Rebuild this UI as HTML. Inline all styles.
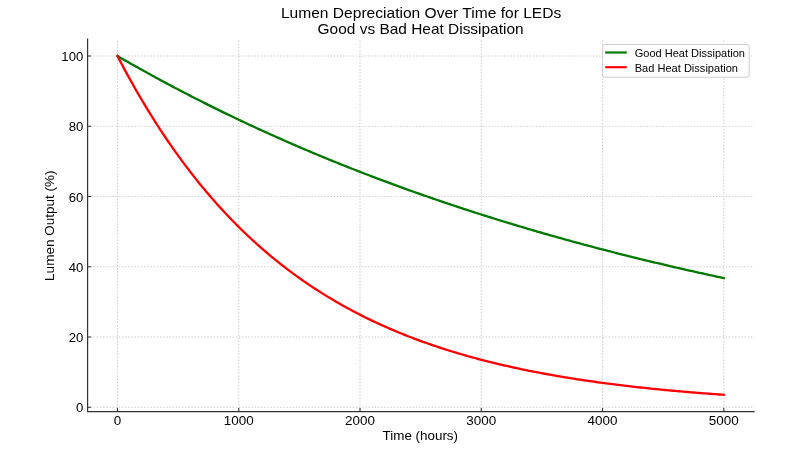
<!DOCTYPE html><html><head><meta charset="utf-8"><style>html,body{margin:0;padding:0;background:#fff;overflow:hidden}svg{display:block}text{font-family:"Liberation Sans",sans-serif;fill:#000}svg{will-change:transform}</style></head><body>
<svg width="800" height="450" viewBox="0 0 800 450">
<rect width="800" height="450" fill="#fff"/>
<path d="M117.50 411.71V39.11M238.76 411.71V39.11M360.02 411.71V39.11M481.28 411.71V39.11M602.54 411.71V39.11M723.80 411.71V39.11M87.19 407.30H754.11M87.19 337.05H754.11M87.19 266.80H754.11M87.19 196.55H754.11M87.19 126.30H754.11M87.19 56.05H754.11" stroke="#cfcfcf" stroke-width="1.1" stroke-dasharray="1.5 1.66" fill="none"/>
<path d="M117.50,56.05 119.53,57.22 121.56,58.39 123.58,59.56 125.61,60.72 127.64,61.87 129.67,63.03 131.69,64.18 133.72,65.32 135.75,66.47 137.78,67.60 139.81,68.74 141.83,69.87 143.86,70.99 145.89,72.12 147.92,73.24 149.94,74.35 151.97,75.46 154.00,76.57 156.03,77.68 158.06,78.78 160.08,79.87 162.11,80.97 164.14,82.06 166.17,83.14 168.19,84.22 170.22,85.30 172.25,86.38 174.28,87.45 176.31,88.52 178.33,89.58 180.36,90.64 182.39,91.70 184.42,92.75 186.44,93.80 188.47,94.85 190.50,95.89 192.53,96.93 194.55,97.97 196.58,99.00 198.61,100.03 200.64,101.06 202.67,102.08 204.69,103.10 206.72,104.12 208.75,105.13 210.78,106.14 212.80,107.14 214.83,108.14 216.86,109.14 218.89,110.14 220.92,111.13 222.94,112.12 224.97,113.11 227.00,114.09 229.03,115.07 231.05,116.04 233.08,117.02 235.11,117.98 237.14,118.95 239.17,119.91 241.19,120.87 243.22,121.83 245.25,122.78 247.28,123.73 249.30,124.68 251.33,125.62 253.36,126.56 255.39,127.50 257.42,128.43 259.44,129.37 261.47,130.29 263.50,131.22 265.53,132.14 267.55,133.06 269.58,133.97 271.61,134.89 273.64,135.80 275.67,136.70 277.69,137.61 279.72,138.51 281.75,139.40 283.78,140.30 285.80,141.19 287.83,142.08 289.86,142.96 291.89,143.85 293.92,144.73 295.94,145.60 297.97,146.48 300.00,147.35 302.03,148.22 304.05,149.08 306.08,149.94 308.11,150.80 310.14,151.66 312.16,152.51 314.19,153.36 316.22,154.21 318.25,155.06 320.28,155.90 322.30,156.74 324.33,157.57 326.36,158.41 328.39,159.24 330.41,160.07 332.44,160.89 334.47,161.72 336.50,162.54 338.53,163.35 340.55,164.17 342.58,164.98 344.61,165.79 346.64,166.60 348.66,167.40 350.69,168.20 352.72,169.00 354.75,169.79 356.78,170.59 358.80,171.38 360.83,172.16 362.86,172.95 364.89,173.73 366.91,174.51 368.94,175.29 370.97,176.06 373.00,176.84 375.03,177.61 377.05,178.37 379.08,179.14 381.11,179.90 383.14,180.66 385.16,181.41 387.19,182.17 389.22,182.92 391.25,183.67 393.28,184.42 395.30,185.16 397.33,185.90 399.36,186.64 401.39,187.38 403.41,188.11 405.44,188.84 407.47,189.57 409.50,190.30 411.53,191.03 413.55,191.75 415.58,192.47 417.61,193.18 419.64,193.90 421.66,194.61 423.69,195.32 425.72,196.03 427.75,196.74 429.77,197.44 431.80,198.14 433.83,198.84 435.86,199.53 437.89,200.23 439.91,200.92 441.94,201.61 443.97,202.29 446.00,202.98 448.02,203.66 450.05,204.34 452.08,205.02 454.11,205.69 456.14,206.37 458.16,207.04 460.19,207.71 462.22,208.37 464.25,209.04 466.27,209.70 468.30,210.36 470.33,211.02 472.36,211.67 474.39,212.33 476.41,212.98 478.44,213.63 480.47,214.27 482.50,214.92 484.52,215.56 486.55,216.20 488.58,216.84 490.61,217.47 492.64,218.11 494.66,218.74 496.69,219.37 498.72,220.00 500.75,220.62 502.77,221.24 504.80,221.87 506.83,222.48 508.86,223.10 510.89,223.72 512.91,224.33 514.94,224.94 516.97,225.55 519.00,226.16 521.02,226.76 523.05,227.36 525.08,227.96 527.11,228.56 529.14,229.16 531.16,229.76 533.19,230.35 535.22,230.94 537.25,231.53 539.27,232.11 541.30,232.70 543.33,233.28 545.36,233.86 547.38,234.44 549.41,235.02 551.44,235.59 553.47,236.17 555.50,236.74 557.52,237.31 559.55,237.88 561.58,238.44 563.61,239.01 565.63,239.57 567.66,240.13 569.69,240.69 571.72,241.24 573.75,241.80 575.77,242.35 577.80,242.90 579.83,243.45 581.86,244.00 583.88,244.54 585.91,245.08 587.94,245.63 589.97,246.17 592.00,246.70 594.02,247.24 596.05,247.78 598.08,248.31 600.11,248.84 602.13,249.37 604.16,249.89 606.19,250.42 608.22,250.94 610.25,251.47 612.27,251.99 614.30,252.51 616.33,253.02 618.36,253.54 620.38,254.05 622.41,254.56 624.44,255.07 626.47,255.58 628.50,256.09 630.52,256.59 632.55,257.10 634.58,257.60 636.61,258.10 638.63,258.59 640.66,259.09 642.69,259.59 644.72,260.08 646.75,260.57 648.77,261.06 650.80,261.55 652.83,262.04 654.86,262.52 656.88,263.00 658.91,263.49 660.94,263.97 662.97,264.44 664.99,264.92 667.02,265.40 669.05,265.87 671.08,266.34 673.11,266.81 675.13,267.28 677.16,267.75 679.19,268.22 681.22,268.68 683.24,269.14 685.27,269.60 687.30,270.06 689.33,270.52 691.36,270.98 693.38,271.43 695.41,271.89 697.44,272.34 699.47,272.79 701.49,273.24 703.52,273.69 705.55,274.13 707.58,274.58 709.61,275.02 711.63,275.46 713.66,275.90 715.69,276.34 717.72,276.78 719.74,277.22 721.77,277.65 723.80,278.08" stroke="#007800" stroke-width="2.3" fill="none" stroke-linejoin="round" stroke-linecap="square"/>
<path d="M117.50,56.05 119.53,59.94 121.56,63.79 123.58,67.60 125.61,71.37 127.64,75.09 129.67,78.78 131.69,82.42 133.72,86.02 135.75,89.58 137.78,93.10 139.81,96.59 141.83,100.03 143.86,103.44 145.89,106.81 147.92,110.14 149.94,113.43 151.97,116.69 154.00,119.91 156.03,123.10 158.06,126.25 160.08,129.37 162.11,132.45 164.14,135.49 166.17,138.51 168.19,141.49 170.22,144.43 172.25,147.35 174.28,150.23 176.31,153.08 178.33,155.90 180.36,158.69 182.39,161.44 184.42,164.17 186.44,166.86 188.47,169.53 190.50,172.16 192.53,174.77 194.55,177.35 196.58,179.90 198.61,182.42 200.64,184.91 202.67,187.38 204.69,189.82 206.72,192.23 208.75,194.61 210.78,196.97 212.80,199.30 214.83,201.61 216.86,203.89 218.89,206.14 220.92,208.37 222.94,210.58 224.97,212.76 227.00,214.92 229.03,217.05 231.05,219.16 233.08,221.24 235.11,223.31 237.14,225.35 239.17,227.36 241.19,229.36 243.22,231.33 245.25,233.28 247.28,235.21 249.30,237.12 251.33,239.01 253.36,240.87 255.39,242.72 257.42,244.54 259.44,246.35 261.47,248.13 263.50,249.89 265.53,251.64 267.55,253.37 269.58,255.07 271.61,256.76 273.64,258.43 275.67,260.08 277.69,261.71 279.72,263.33 281.75,264.92 283.78,266.50 285.80,268.06 287.83,269.60 289.86,271.13 291.89,272.64 293.92,274.13 295.94,275.61 297.97,277.07 300.00,278.51 302.03,279.94 304.05,281.35 306.08,282.75 308.11,284.13 310.14,285.50 312.16,286.85 314.19,288.18 316.22,289.50 318.25,290.81 320.28,292.10 322.30,293.38 324.33,294.64 326.36,295.89 328.39,297.12 330.41,298.35 332.44,299.55 334.47,300.75 336.50,301.93 338.53,303.10 340.55,304.25 342.58,305.40 344.61,306.52 346.64,307.64 348.66,308.75 350.69,309.84 352.72,310.92 354.75,311.99 356.78,313.05 358.80,314.09 360.83,315.12 362.86,316.15 364.89,317.16 366.91,318.16 368.94,319.14 370.97,320.12 373.00,321.09 375.03,322.04 377.05,322.99 379.08,323.92 381.11,324.85 383.14,325.76 385.16,326.67 387.19,327.56 389.22,328.44 391.25,329.32 393.28,330.18 395.30,331.04 397.33,331.88 399.36,332.72 401.39,333.55 403.41,334.36 405.44,335.17 407.47,335.97 409.50,336.76 411.53,337.54 413.55,338.32 415.58,339.08 417.61,339.84 419.64,340.59 421.66,341.33 423.69,342.06 425.72,342.78 427.75,343.50 429.77,344.20 431.80,344.90 433.83,345.59 435.86,346.28 437.89,346.96 439.91,347.62 441.94,348.29 443.97,348.94 446.00,349.59 448.02,350.23 450.05,350.86 452.08,351.49 454.11,352.10 456.14,352.72 458.16,353.32 460.19,353.92 462.22,354.51 464.25,355.10 466.27,355.68 468.30,356.25 470.33,356.81 472.36,357.37 474.39,357.93 476.41,358.47 478.44,359.02 480.47,359.55 482.50,360.08 484.52,360.60 486.55,361.12 488.58,361.63 490.61,362.14 492.64,362.64 494.66,363.14 496.69,363.63 498.72,364.11 500.75,364.59 502.77,365.06 504.80,365.53 506.83,365.99 508.86,366.45 510.89,366.90 512.91,367.35 514.94,367.79 516.97,368.23 519.00,368.67 521.02,369.09 523.05,369.52 525.08,369.94 527.11,370.35 529.14,370.76 531.16,371.17 533.19,371.57 535.22,371.96 537.25,372.35 539.27,372.74 541.30,373.12 543.33,373.50 545.36,373.88 547.38,374.25 549.41,374.61 551.44,374.98 553.47,375.34 555.50,375.69 557.52,376.04 559.55,376.39 561.58,376.73 563.61,377.07 565.63,377.40 567.66,377.74 569.69,378.06 571.72,378.39 573.75,378.71 575.77,379.02 577.80,379.34 579.83,379.65 581.86,379.95 583.88,380.26 585.91,380.56 587.94,380.85 589.97,381.15 592.00,381.44 594.02,381.72 596.05,382.01 598.08,382.29 600.11,382.57 602.13,382.84 604.16,383.11 606.19,383.38 608.22,383.64 610.25,383.91 612.27,384.17 614.30,384.42 616.33,384.68 618.36,384.93 620.38,385.17 622.41,385.42 624.44,385.66 626.47,385.90 628.50,386.14 630.52,386.37 632.55,386.61 634.58,386.84 636.61,387.06 638.63,387.29 640.66,387.51 642.69,387.73 644.72,387.95 646.75,388.16 648.77,388.37 650.80,388.58 652.83,388.79 654.86,388.99 656.88,389.20 658.91,389.40 660.94,389.60 662.97,389.79 664.99,389.99 667.02,390.18 669.05,390.37 671.08,390.56 673.11,390.74 675.13,390.93 677.16,391.11 679.19,391.29 681.22,391.46 683.24,391.64 685.27,391.81 687.30,391.98 689.33,392.15 691.36,392.32 693.38,392.49 695.41,392.65 697.44,392.82 699.47,392.98 701.49,393.13 703.52,393.29 705.55,393.45 707.58,393.60 709.61,393.75 711.63,393.90 713.66,394.05 715.69,394.20 717.72,394.34 719.74,394.49 721.77,394.63 723.80,394.77" stroke="#ff0000" stroke-width="2.3" fill="none" stroke-linejoin="round" stroke-linecap="square"/>
<path d="M87.60 39.11V411.60H754.11" stroke="#333" stroke-width="1.2" fill="none" stroke-linecap="square"/>
<path d="M117.50 411.60v-3.6M238.76 411.60v-3.6M360.02 411.60v-3.6M481.28 411.60v-3.6M602.54 411.60v-3.6M723.80 411.60v-3.6M87.60 407.30h3.6M87.60 337.05h3.6M87.60 266.80h3.6M87.60 196.55h3.6M87.60 126.30h3.6M87.60 56.05h3.6" stroke="#333" stroke-width="1.1" fill="none"/>
<text x="117.50" y="424.80" font-size="12.3" text-anchor="middle" textLength="7.49" lengthAdjust="spacingAndGlyphs">0</text>
<text x="238.76" y="424.80" font-size="12.3" text-anchor="middle" textLength="29.96" lengthAdjust="spacingAndGlyphs">1000</text>
<text x="360.02" y="424.80" font-size="12.3" text-anchor="middle" textLength="29.96" lengthAdjust="spacingAndGlyphs">2000</text>
<text x="481.28" y="424.80" font-size="12.3" text-anchor="middle" textLength="29.96" lengthAdjust="spacingAndGlyphs">3000</text>
<text x="602.54" y="424.80" font-size="12.3" text-anchor="middle" textLength="29.96" lengthAdjust="spacingAndGlyphs">4000</text>
<text x="723.80" y="424.80" font-size="12.3" text-anchor="middle" textLength="29.96" lengthAdjust="spacingAndGlyphs">5000</text>
<text x="83.30" y="412.40" font-size="12.3" text-anchor="end" textLength="7.32" lengthAdjust="spacingAndGlyphs">0</text>
<text x="83.30" y="342.15" font-size="12.3" text-anchor="end" textLength="14.64" lengthAdjust="spacingAndGlyphs">20</text>
<text x="83.30" y="271.90" font-size="12.3" text-anchor="end" textLength="14.64" lengthAdjust="spacingAndGlyphs">40</text>
<text x="83.30" y="201.65" font-size="12.3" text-anchor="end" textLength="14.64" lengthAdjust="spacingAndGlyphs">60</text>
<text x="83.30" y="131.40" font-size="12.3" text-anchor="end" textLength="14.64" lengthAdjust="spacingAndGlyphs">80</text>
<text x="83.30" y="61.15" font-size="12.3" text-anchor="end" textLength="21.96" lengthAdjust="spacingAndGlyphs">100</text>
<text x="420.30" y="440.20" font-size="12.3" text-anchor="middle" textLength="75.50" lengthAdjust="spacingAndGlyphs">Time (hours)</text>
<text transform="translate(53.90,225.65) rotate(-90)" font-size="12.3" text-anchor="middle" textLength="110.50" lengthAdjust="spacingAndGlyphs">Lumen Output (%)</text>
<text x="421.10" y="17.60" font-size="14.8" text-anchor="middle" textLength="280.30" lengthAdjust="spacingAndGlyphs">Lumen Depreciation Over Time for LEDs</text>
<text x="420.60" y="34.10" font-size="14.8" text-anchor="middle" textLength="206.00" lengthAdjust="spacingAndGlyphs">Good vs Bad Heat Dissipation</text>
<rect x="602.5" y="44.5" width="146.7" height="32.7" rx="2.2" fill="#fff" fill-opacity="0.8" stroke="#d0d0d0" stroke-width="1"/>
<path d="M605.2 52.5H626.8" stroke="#007800" stroke-width="2.2"/>
<path d="M605.2 67.2H626.8" stroke="#ff0000" stroke-width="2.2"/>
<text x="634.70" y="57.00" font-size="10.3" text-anchor="start" textLength="110.30" lengthAdjust="spacingAndGlyphs">Good Heat Dissipation</text>
<text x="634.70" y="71.90" font-size="10.3" text-anchor="start" textLength="103.30" lengthAdjust="spacingAndGlyphs">Bad Heat Dissipation</text>
</svg></body></html>
